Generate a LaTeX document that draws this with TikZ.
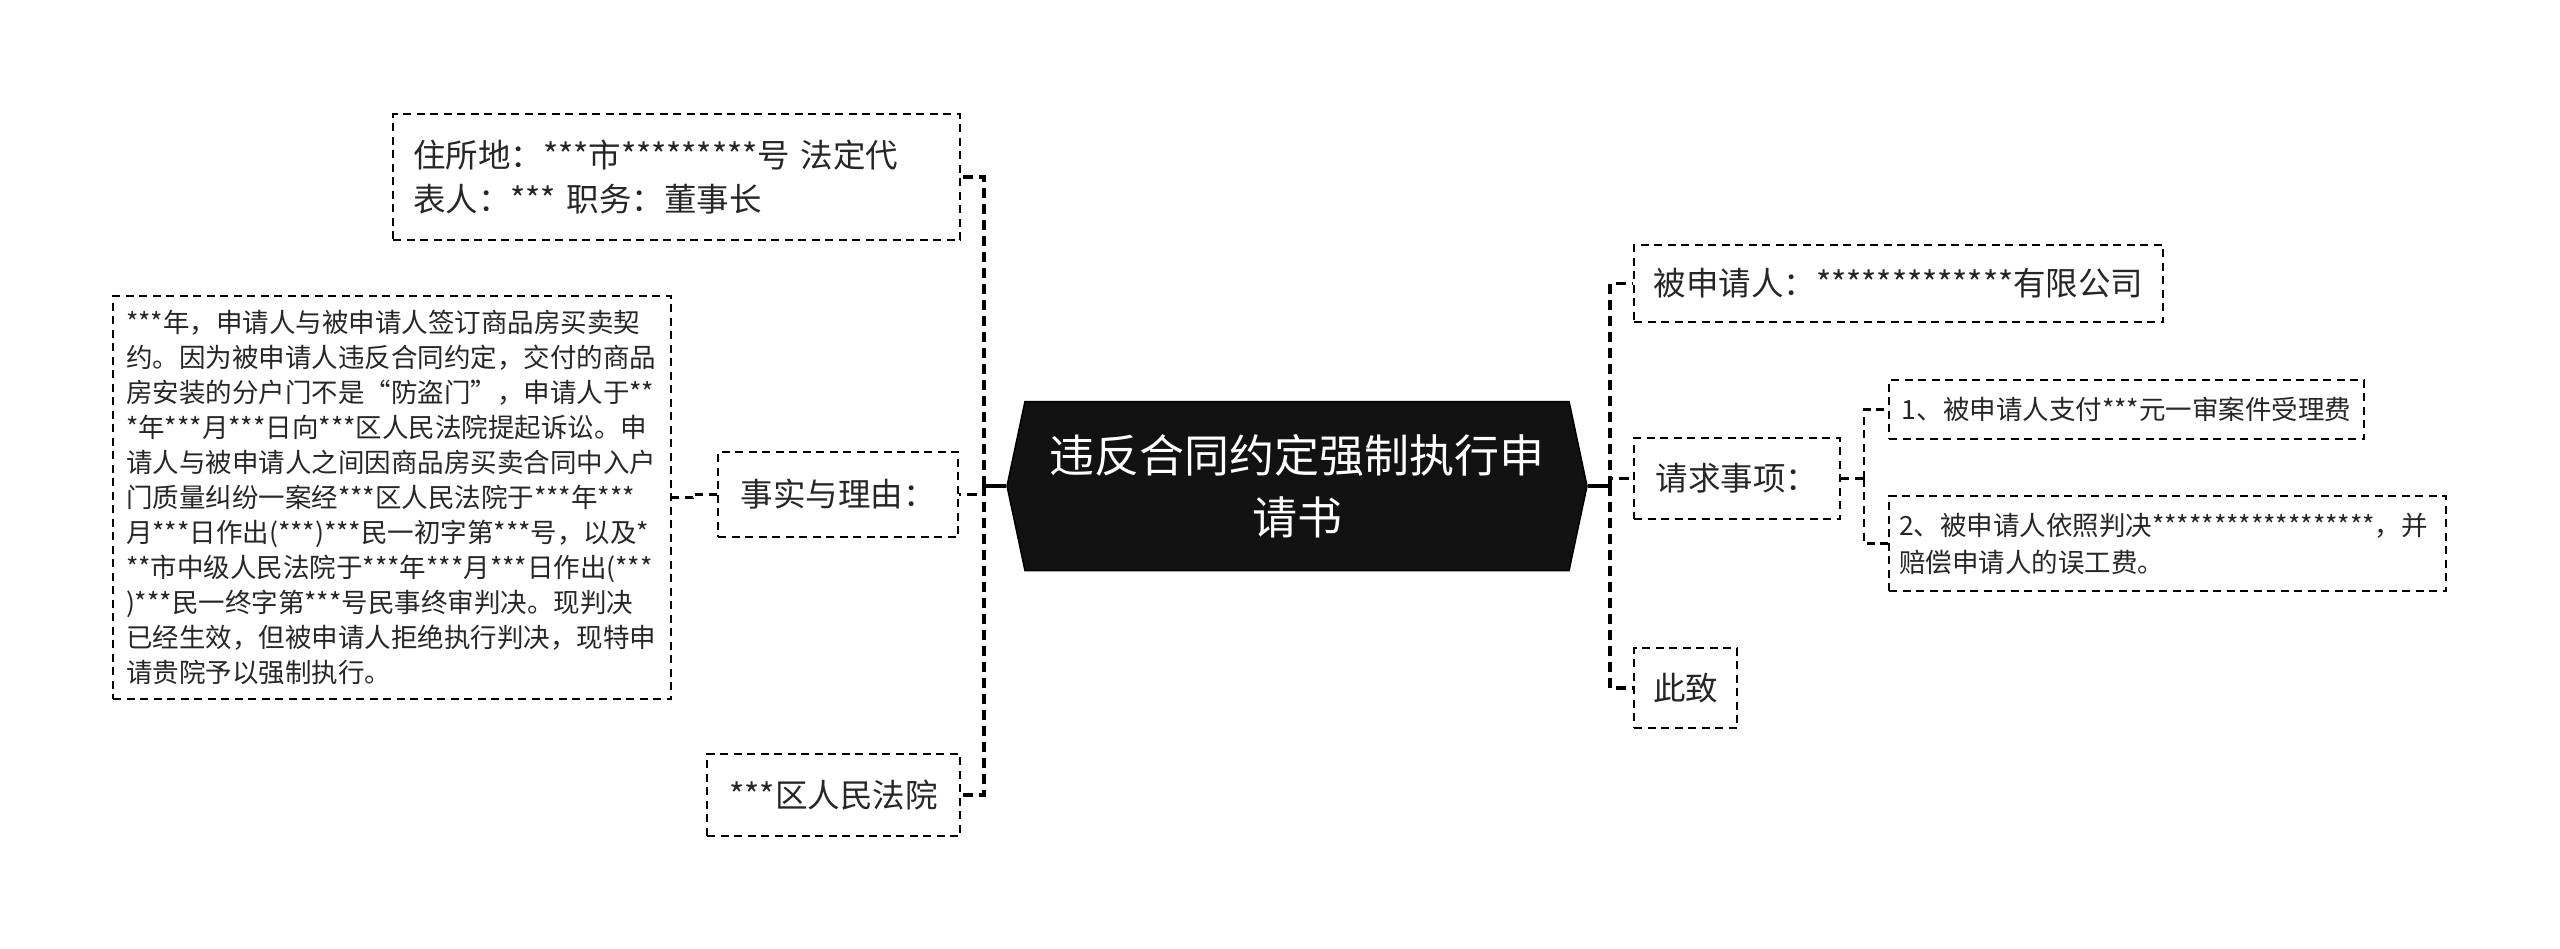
\documentclass[tikz,border=0pt]{standalone}
\usepackage{fontspec}
\setmainfont{Noto Sans CJK SC}
\usetikzlibrary{shapes.symbols}

\begin{document}
\begin{tikzpicture}[x=1pt,y=-1pt,
    box/.style={draw=black,line width=2.2pt,dash pattern=on 8pt off 5.5pt,inner sep=0pt,text=black!85},
    midtext/.style={font=\fontsize{32.5}{44}\selectfont},
    smalltext/.style={font=\fontsize{26.5}{36}\selectfont},
    link/.style={line width=3.6pt,dash pattern=on 10pt off 6pt},
    sublink/.style={line width=2.2pt,dash pattern=on 8pt off 5.5pt},
    stub/.style={line width=3.6pt}]
    \useasboundingbox (0,0) rectangle (2560,948);

    % centre
    \node[shape=signal,signal to=west and east,signal pointer angle=156,
          fill=black!93,draw=black,line width=1.5pt,text=white,align=center,
          minimum width=580,minimum height=169,inner sep=0pt,
          font=\fontsize{45}{62}\selectfont] (root) at (1297,486) {违反合同约定强制执行申\\请书};

    % left branch
    \node[box,midtext,minimum width=567,minimum height=126,text width=527,align=left] (addr) at (676.5,177) {住所地：***市*********号 法定代\\表人：*** 职务：董事长};
    \node[box,midtext,minimum width=240,minimum height=85] (facts) at (838,494.5) {事实与理由：};
    \node[box,smalltext,minimum width=558,minimum height=403,text width=532,align=left,font=\fontsize{26.5}{35}\selectfont] (detail) at (392,497.5) {***年，申请人与被申请人签订商品房买卖契\\约。因为被申请人违反合同约定，交付的商品\\房安装的分户门不是“防盗门”，申请人于**\\{}*年***月***日向***区人民法院提起诉讼。申\\请人与被申请人之间因商品房买卖合同中入户\\门质量纠纷一案经***区人民法院于***年***\\月***日作出(***)***民一初字第***号，以及*\\{}**市中级人民法院于***年***月***日作出(***\\)***民一终字第***号民事终审判决。现判决\\已经生效，但被申请人拒绝执行判决，现特申\\请贵院予以强制执行。};
    \node[box,midtext,minimum width=253,minimum height=82] (court) at (833.5,795) {***区人民法院};

    % right branch
    \node[box,midtext,minimum width=529,minimum height=77] (resp) at (1898.5,283.5) {被申请人：*************有限公司};
    \node[box,midtext,minimum width=206,minimum height=81] (claims) at (1737,478.5) {请求事项：};
    \node[box,midtext,minimum width=103,minimum height=80] (cizhi) at (1685.5,688) {此致};
    \node[box,smalltext,minimum width=475,minimum height=59] (claimA) at (2126.5,409.5) {1、被申请人支付***元一审案件受理费};
    \node[box,smalltext,minimum width=557,minimum height=95,text width=537,align=left,font=\fontsize{26.5}{37}\selectfont] (claimB) at (2167.5,543.5) {2、被申请人依照判决******************，并\\赔偿申请人的误工费。};

    % connectors
    \coordinate (lt) at (984,486);
    \coordinate (rt) at (1610,486);
    \draw[stub] (root.west) -- (lt);
    \draw[link] (lt) |- (addr.east);
    \draw[link] (lt) |- (facts.east);
    \draw[link] (lt) |- (court.east);
    \draw[sublink] (facts.west) -- ++(-24,0) |- (detail.east);

    \draw[stub] (root.east) -- (rt);
    \draw[link] (rt) |- (resp.west);
    \draw[link] (rt) |- (claims.west);
    \draw[link] (rt) |- (cizhi.west);
    \draw[sublink] (claims.east) -- ++(23,0) coordinate (ct);
    \draw[sublink] (ct) |- (claimA.west);
    \draw[sublink] (ct) |- (claimB.west);
\end{tikzpicture}
\end{document}
